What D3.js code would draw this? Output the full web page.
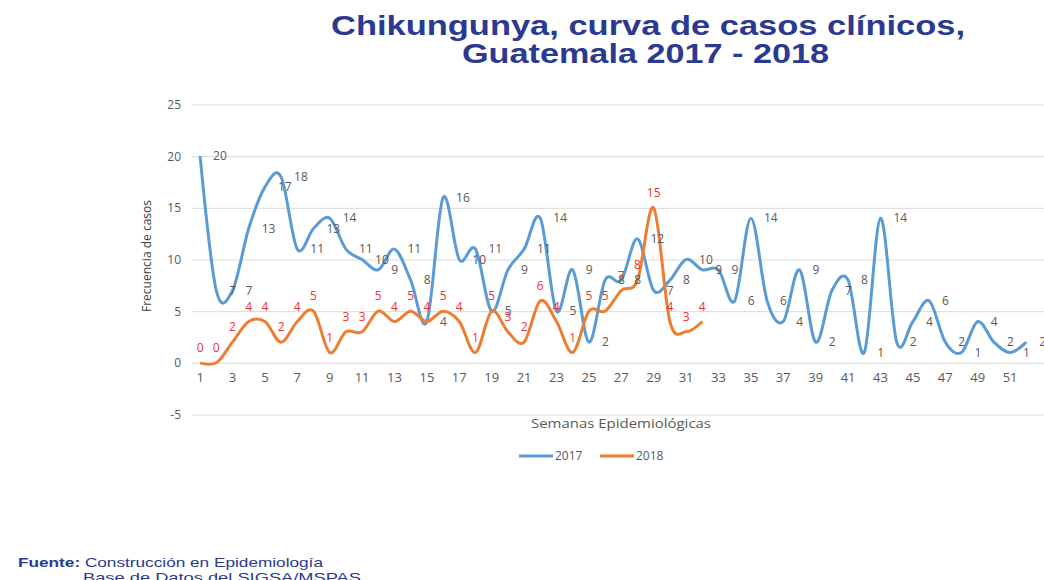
<!DOCTYPE html>
<html>
<head>
<meta charset="utf-8">
<script src="https://cdnjs.cloudflare.com/ajax/libs/d3/7.8.5/d3.min.js"></script>
<style>
  body { margin: 0; background: #fff; }
  svg { display: block; }
</style>
</head>
<body>
<div id="chart"></div>
<script>
// weeks 1..52 (epidemiological weeks)
const weeks = d3.range(1, 53);
const weekTicks = d3.range(1, 52, 2);

const cases2017 = [20, 7, 7, 13, 17, 18, 11, 13, 14, 11, 10, 9, 11, 8, 4, 16, 10, 11, 5, 9,
                   11, 14, 5, 9, 2, 8, 8, 12, 7, 8, 10, 9, 9, 6, 14, 6, 4, 9, 2, 7,
                   8, 1, 14, 2, 4, 6, 2, 1, 4, 2, 1, 2];
const cases2018 = [0, 0, 2, 4, 4, 2, 4, 5, 1, 3, 3, 5, 4, 5, 4, 5, 4, 1, 5, 3,
                   2, 6, 4, 1, 5, 5, 7, 8, 15, 4, 3, 4];
const yTicks = [-5, 0, 5, 10, 15, 20, 25];

const width = 1044, height = 580;
const plotLeft = 192, plotRight = 192 + 52 * 16.2;
const chartFont = "'Open Sans', sans-serif";

const svg = d3.select("#chart").append("svg")
    .attr("width", width)
    .attr("height", height);

var x = d3.scaleBand()
          .domain(weeks)
          .range([plotLeft, plotRight]);
var y = d3.scaleLinear()
          .domain([-5, 25])
          .range([414.5, 104.5]);

const cx = d => x(d) + x.bandwidth() / 2;

// title (the original is stretched horizontally)
svg.append("text")
   .attr("x", 331).attr("y", 35)
   .attr("textLength", 634).attr("lengthAdjust", "spacingAndGlyphs")
   .style("font", "bold 27px 'Liberation Sans', Arial, sans-serif")
   .attr("fill", "#2b3990")
   .text("Chikungunya, curva de casos clínicos,");
svg.append("text")
   .attr("x", 462).attr("y", 63)
   .attr("textLength", 367).attr("lengthAdjust", "spacingAndGlyphs")
   .style("font", "bold 27px 'Liberation Sans', Arial, sans-serif")
   .attr("fill", "#2b3990")
   .text("Guatemala 2017 - 2018");

// y axis with gridlines
const yAxis = svg.append("g")
   .attr("transform", `translate(${plotLeft},0)`)
   .call(d3.axisLeft(y).tickValues(yTicks).tickFormat(d => String(d))
           .tickSize(-(width - plotLeft)).tickPadding(11));
yAxis.select(".domain").remove();
yAxis.selectAll("line").attr("stroke", "#d9d9d9");
yAxis.selectAll("text")
   .attr("fill", "#595959")
   .style("font", `12px ${chartFont}`);

// x axis labels
const xAxis = svg.append("g")
   .attr("transform", `translate(0,${y(0)})`)
   .call(d3.axisBottom(x).tickValues(weekTicks).tickSize(0).tickPadding(10));
xAxis.select(".domain").remove();
xAxis.selectAll("text")
   .attr("fill", "#595959")
   .style("font", `13px ${chartFont}`);

// axis titles
svg.append("text")
   .attr("transform", "translate(151,256) rotate(-90)")
   .attr("text-anchor", "middle")
   .attr("fill", "#404040")
   .style("font", `13px ${chartFont}`)
   .attr("textLength", 112).attr("lengthAdjust", "spacingAndGlyphs")
   .text("Frecuencia de casos");
svg.append("text")
   .attr("x", 531).attr("y", 428)
   .attr("textLength", 180).attr("lengthAdjust", "spacingAndGlyphs")
   .attr("fill", "#595959")
   .style("font", `13px ${chartFont}`)
   .text("Semanas Epidemiológicas");

// lines
const line = d3.line()
   .x((d, i) => cx(weeks[i]))
   .y(d => y(d))
   .curve(d3.curveCardinal.tension(0));

svg.append("path")
   .datum(cases2017)
   .attr("fill", "none")
   .attr("stroke", "#5b9bd5")
   .attr("stroke-width", 3)
   .attr("stroke-linejoin", "round")
   .attr("d", line);

svg.append("path")
   .datum(cases2018)
   .attr("fill", "none")
   .attr("stroke", "#ed7d31")
   .attr("stroke-width", 3)
   .attr("stroke-linejoin", "round")
   .attr("d", line);

// data labels 2017 (right of point)
svg.selectAll(".lbl17")
   .data(cases2017)
   .enter().append("text")
   .attr("class", "lbl17")
   .attr("x", (d, i) => cx(weeks[i]) + 13)
   .attr("y", d => y(d))
   .attr("dy", "0.35em")
   .attr("fill", "#595959")
   .style("font", `12px ${chartFont}`)
   .text(d => d);

// data labels 2018 (above point)
svg.selectAll(".lbl18")
   .data(cases2018)
   .enter().append("text")
   .attr("class", "lbl18")
   .attr("x", (d, i) => cx(weeks[i]))
   .attr("y", d => y(d) - 15)
   .attr("dy", "0.35em")
   .attr("text-anchor", "middle")
   .attr("fill", "#ee3333")
   .style("font", `12px ${chartFont}`)
   .text(d => d);

// legend
const legend = [{name: "2017", color: "#5b9bd5", x: 519}, {name: "2018", color: "#ed7d31", x: 600}];
const lg = svg.selectAll(".legend")
   .data(legend)
   .enter().append("g")
   .attr("transform", d => `translate(${d.x},456)`);
lg.append("line")
   .attr("x1", 0).attr("x2", 34)
   .attr("stroke", d => d.color)
   .attr("stroke-width", 3);
lg.append("text")
   .attr("x", 36).attr("dy", "0.35em")
   .attr("fill", "#595959")
   .style("font", `12px ${chartFont}`)
   .text(d => d.name);

// source
svg.append("text")
   .attr("x", 18).attr("y", 567)
   .attr("textLength", 305).attr("lengthAdjust", "spacingAndGlyphs")
   .attr("fill", "#2b3990")
   .style("font", "13px 'Liberation Sans', Arial, sans-serif")
   .html("<tspan font-weight='bold'>Fuente:</tspan> Construcción en Epidemiología");
svg.append("text")
   .attr("x", 83).attr("y", 582)
   .attr("textLength", 278).attr("lengthAdjust", "spacingAndGlyphs")
   .attr("fill", "#2b3990")
   .style("font", "13px 'Liberation Sans', Arial, sans-serif")
   .text("Base de Datos del SIGSA/MSPAS");
</script>
</body>
</html>
